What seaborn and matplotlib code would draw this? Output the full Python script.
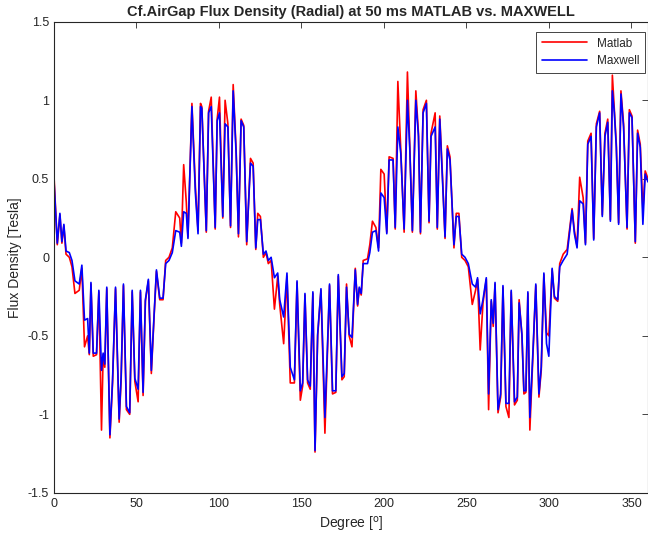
import numpy as np
import pandas as pd
import seaborn as sns
import matplotlib.pyplot as plt

# air gap angle [deg] (shared sample points, vertices)
degree = [
    0.0, 0.4, 2.0, 3.6, 4.8, 6.0, 7.3, 9.3, 10.9, 12.7,
    15.3, 16.9, 18.5, 20.4, 21.4, 22.4, 23.8, 25.8, 27.2, 28.8,
    29.8, 30.8, 32.0, 33.9, 35.5, 37.3, 39.5, 40.7, 42.1, 43.9,
    45.9, 47.4, 49.0, 51.0, 52.4, 54.0, 55.4, 57.2, 59.0, 60.7,
    62.1, 64.1, 66.1, 67.7, 69.7, 71.7, 73.8, 76.2, 77.2, 78.6,
    80.2, 81.2, 83.6, 85.7, 87.3, 88.8, 89.6, 92.3, 93.7, 95.3,
    97.7, 98.9, 100.3, 102.3, 103.7, 105.4, 107.0, 108.6, 110.4, 111.8,
    113.4, 115.0, 116.8, 119.1, 120.7, 122.3, 123.5, 125.1, 126.9, 128.5,
    129.9, 131.6, 133.6, 135.6, 136.8, 139.2, 141.2, 143.2, 145.7, 147.3,
    149.3, 150.7, 152.1, 153.7, 155.3, 156.9, 158.2, 159.8, 161.8, 164.2,
    165.8, 167.0, 168.8, 170.8, 172.3, 174.5, 175.9, 177.3, 178.9, 180.6,
    182.6, 184.0, 185.0, 186.2, 187.4, 190.0, 191.4, 193.0, 195.1, 196.7,
    198.1, 200.1, 201.7, 203.1, 205.5, 206.8, 208.4, 210.2, 212.2, 214.2,
    215.6, 217.2, 219.3, 220.9, 222.1, 223.7, 225.7, 227.3, 228.5, 231.0,
    232.3, 233.8, 235.4, 237.0, 238.4, 240.0, 242.4, 243.8, 245.4, 247.1,
    249.1, 251.1, 253.5, 255.5, 256.7, 258.3, 260.0, 262.0, 263.4, 265.0,
    266.2, 267.3, 269.1, 270.7, 272.1, 273.9, 275.7, 277.1, 279.1, 280.8,
    281.9, 283.6, 284.8, 286.0, 287.2, 288.4, 290.4, 292.0, 293.9, 295.3,
    296.9, 298.5, 299.9, 301.9, 303.3, 305.3, 306.5, 308.6, 311.0, 312.6,
    314.0, 315.4, 317.0, 318.6, 320.7, 322.1, 323.5, 325.5, 327.1, 328.7,
    330.7, 332.3, 333.9, 335.6, 337.2, 338.4, 339.6, 340.8, 342.2, 343.6,
    345.2, 347.3, 348.7, 350.3, 352.3, 353.7, 355.3, 356.9, 358.3, 360.0,
]

# radial flux density [T], Maxwell FEM
maxwell = [
    0.49, 0.41, 0.09, 0.28, 0.10, 0.21, 0.04, 0.03, -0.02, -0.15,
    -0.17, -0.05, -0.40, -0.39, -0.61, -0.16, -0.61, -0.61, -0.21, -0.72,
    -0.61, -0.68, -0.19, -1.13, -0.78, -0.19, -1.03, -0.76, -0.17, -0.95,
    -0.99, -0.21, -0.77, -0.84, -0.21, -0.86, -0.27, -0.14, -0.72, -0.36,
    -0.08, -0.26, -0.26, -0.04, -0.02, 0.03, 0.17, 0.16, 0.07, 0.29,
    0.28, 0.12, 0.96, 0.41, 0.15, 0.96, 0.95, 0.17, 0.92, 0.96,
    0.19, 0.87, 0.92, 0.26, 0.85, 0.83, 0.20, 1.06, 0.66, 0.15,
    0.87, 0.83, 0.10, 0.60, 0.58, 0.06, 0.24, 0.24, 0.02, 0.04,
    -0.02, 0.00, -0.13, -0.10, -0.27, -0.38, -0.10, -0.70, -0.78, -0.15,
    -0.85, -0.80, -0.23, -0.78, -0.82, -0.22, -1.23, -0.49, -0.20, -1.02,
    -0.55, -0.17, -0.85, -0.85, -0.11, -0.76, -0.74, -0.19, -0.49, -0.51,
    -0.08, -0.30, -0.19, -0.23, -0.04, -0.04, 0.03, 0.16, 0.17, 0.04,
    0.41, 0.38, 0.15, 0.62, 0.62, 0.19, 0.83, 0.66, 0.18, 1.00,
    0.70, 0.17, 1.00, 0.77, 0.16, 0.92, 0.98, 0.23, 0.77, 0.83,
    0.19, 0.88, 0.51, 0.13, 0.69, 0.62, 0.08, 0.26, 0.26, 0.02,
    0.00, -0.04, -0.17, -0.19, -0.13, -0.36, -0.27, -0.13, -0.87, -0.27,
    -0.42, -0.16, -0.97, -0.87, -0.18, -0.93, -0.93, -0.21, -0.92, -0.89,
    -0.29, -0.49, -0.85, -0.85, -0.22, -1.02, -0.57, -0.17, -0.87, -0.70,
    -0.10, -0.55, -0.63, -0.07, -0.25, -0.27, -0.06, -0.02, 0.02, 0.17,
    0.30, 0.15, 0.06, 0.36, 0.34, 0.08, 0.72, 0.77, 0.11, 0.83,
    0.92, 0.26, 0.77, 0.86, 0.23, 1.06, 0.92, 0.70, 0.21, 1.04,
    0.83, 0.19, 0.92, 0.89, 0.10, 0.79, 0.70, 0.21, 0.53, 0.48,
]

# radial flux density [T], MATLAB model
matlab = [
    0.52, 0.43, 0.08, 0.27, 0.09, 0.20, 0.02, 0.00, -0.06, -0.23,
    -0.21, -0.07, -0.57, -0.50, -0.62, -0.17, -0.63, -0.62, -0.22, -1.10,
    -0.62, -0.70, -0.20, -1.15, -0.80, -0.20, -1.05, -0.78, -0.18, -0.97,
    -1.00, -0.22, -0.79, -0.92, -0.22, -0.88, -0.28, -0.15, -0.74, -0.37,
    -0.09, -0.27, -0.27, -0.02, 0.00, 0.06, 0.29, 0.25, 0.09, 0.59,
    0.35, 0.13, 0.98, 0.45, 0.17, 0.98, 0.96, 0.16, 0.93, 1.02,
    0.18, 0.88, 1.02, 0.25, 1.00, 0.85, 0.19, 1.10, 0.68, 0.13,
    0.88, 0.84, 0.08, 0.63, 0.60, 0.05, 0.28, 0.26, 0.00, 0.03,
    -0.04, -0.02, -0.33, -0.12, -0.30, -0.55, -0.12, -0.80, -0.80, -0.16,
    -0.91, -0.82, -0.24, -0.80, -0.84, -0.23, -1.24, -0.50, -0.21, -1.12,
    -0.57, -0.18, -0.87, -0.86, -0.12, -0.78, -0.76, -0.17, -0.50, -0.57,
    -0.07, -0.31, -0.20, -0.24, -0.02, -0.01, 0.08, 0.23, 0.19, 0.06,
    0.56, 0.53, 0.16, 0.64, 0.63, 0.18, 1.12, 0.68, 0.16, 1.18,
    0.72, 0.16, 1.06, 0.79, 0.15, 0.94, 1.00, 0.22, 0.79, 0.92,
    0.18, 0.90, 0.53, 0.12, 0.71, 0.64, 0.06, 0.28, 0.28, 0.00,
    -0.02, -0.06, -0.30, -0.21, -0.14, -0.59, -0.29, -0.14, -0.97, -0.28,
    -0.44, -0.17, -0.99, -0.89, -0.19, -0.95, -1.02, -0.22, -0.94, -0.91,
    -0.27, -0.50, -0.87, -0.86, -0.23, -1.10, -0.59, -0.18, -0.89, -0.72,
    -0.11, -0.48, -0.50, -0.08, -0.26, -0.28, -0.04, 0.02, 0.05, 0.19,
    0.31, 0.17, 0.07, 0.51, 0.38, 0.09, 0.74, 0.79, 0.12, 0.85,
    0.93, 0.27, 0.79, 0.88, 0.24, 1.16, 0.94, 0.72, 0.22, 1.06,
    0.85, 0.18, 0.94, 0.90, 0.09, 0.81, 0.72, 0.30, 0.55, 0.50,
]

xticks = [0, 50, 100, 150, 200, 250, 300, 350]
yticks = [-1.5, -1, -0.5, 0, 0.5, 1, 1.5]
ytick_labels = ['-1.5', '-1', '-0.5', '0', '0.5', '1', '1.5']

sns.set_style("white")
plt.rcParams['font.family'] = ['Liberation Sans', 'DejaVu Sans']
plt.rcParams['xtick.direction'] = 'in'
plt.rcParams['ytick.direction'] = 'in'

fig = plt.figure(figsize=(6.48, 5.44), dpi=100)
ax = fig.add_axes([0.0833, 0.094, 0.9167, 0.866])

sns.lineplot(x=degree, y=matlab, color='#ff0000', linewidth=1.2,
             estimator=None, sort=False, label='Matlab', ax=ax)
sns.lineplot(x=degree, y=maxwell, color='#0000ff', linewidth=1.2,
             estimator=None, sort=False, label='Maxwell', ax=ax)

ax.set_xlim(0, 360)
ax.set_ylim(-1.5, 1.5)
ax.set_xticks(xticks)
ax.set_yticks(yticks)
ax.set_yticklabels(ytick_labels)
ax.tick_params(axis='both', labelsize=9, colors='#262626', length=4,
               width=0.6, top=True, right=True)
for s in ax.spines.values():
    s.set_color('#262626')
    s.set_linewidth(0.8)

ax.set_title('Cf.AirGap Flux Density (Radial) at 50 ms MATLAB vs. MAXWELL',
             fontsize=10.5, fontweight='bold', pad=4)
ax.set_xlabel('Degree [$^{\\mathrm{o}}$]', fontsize=10, color='#262626')
ax.set_ylabel('Flux Density [Tesla]', fontsize=10, color='#262626')

leg = ax.legend(loc='upper right', bbox_to_anchor=(0.995, 0.979),
                borderaxespad=0, fontsize=8.5, handlelength=3.8,
                labelspacing=0.45, borderpad=0.5,
                fancybox=False, framealpha=1, edgecolor='#262626')
leg.get_frame().set_linewidth(0.6)

fig.savefig('out.png', dpi=100)
